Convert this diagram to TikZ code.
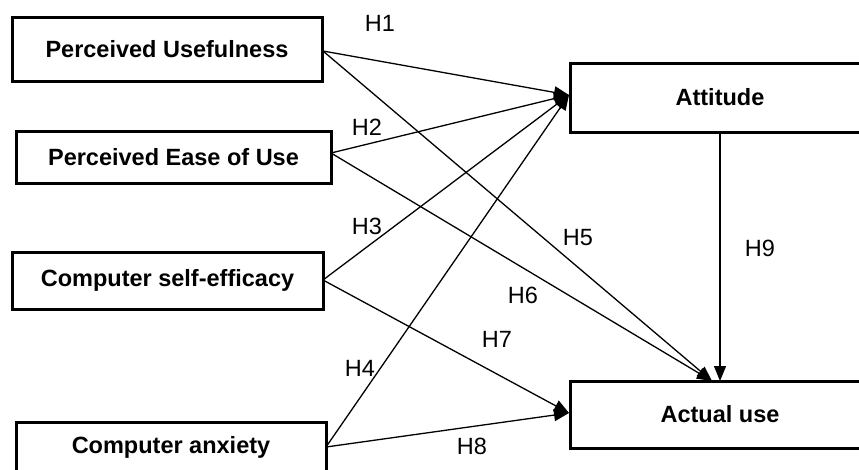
\documentclass[tikz,border=0pt]{standalone}
\usepackage{fontspec}
\setmainfont{Liberation Sans}
\usetikzlibrary{arrows.meta}
\tikzset{
  box/.style={draw, line width=3pt, rectangle, inner sep=0pt, font=\fontsize{23.5}{28}\selectfont\bfseries},
  link/.style={line width=1.3pt, -{Triangle[length=15pt,width=12pt]}},
  hyp/.style={font=\fontsize{23.5}{28}\selectfont, inner sep=0pt}
}
\begin{document}
\begin{tikzpicture}[x=1pt,y=-1pt]
\useasboundingbox (0,0) rectangle (859,469);
% boxes
\node[box, minimum width=310pt, minimum height=64pt] (pu) at (167,49) {Perceived Usefulness};
\node[box, minimum width=315pt, minimum height=52pt] (peou) at (173.5,157) {Perceived Ease of Use};
\node[box, minimum width=311pt, minimum height=57pt] (cse) at (167.5,280.5) {Computer self-efficacy};
\node[box, minimum width=310pt, minimum height=50pt] (ca) at (171,447) {Computer anxiety};
\node[box, minimum width=300pt, minimum height=69pt] (att) at (720,97.5) {Attitude};
\node[box, minimum width=300pt, minimum height=67pt] (au) at (720,414.5) {Actual use};
% connector end points
\coordinate (puo) at (323,51);
\coordinate (peouo) at (331,153);
\coordinate (cseo) at (323,280);
\coordinate (cao) at (326,447);
\coordinate (attin) at (569,95);
\coordinate (auin) at (712,381);
\coordinate (auleft) at (569,413);
\coordinate (atto) at (720,132);
\coordinate (autop) at (720,381);
% connectors
\draw[link] (puo) -- (attin);
\draw[link] (puo) -- (auin);
\draw[link] (peouo) -- (attin);
\draw[link] (peouo) -- (auin);
\draw[link] (cseo) -- (attin);
\draw[link] (cseo) -- (auleft);
\draw[link] (cao) -- (attin);
\draw[link] (cao) -- (auleft);
\draw[link] (atto) -- (autop);
% labels
\node[hyp] (h1) at (380,23) {H1};
\node[hyp] (h2) at (367,127) {H2};
\node[hyp] (h3) at (367,226) {H3};
\node[hyp] (h4) at (360,368) {H4};
\node[hyp] (h5) at (578,238) {H5};
\node[hyp] (h6) at (523,295) {H6};
\node[hyp] (h7) at (497,339) {H7};
\node[hyp] (h8) at (472,446) {H8};
\node[hyp] (h9) at (760,248) {H9};
\end{tikzpicture}
\end{document}
